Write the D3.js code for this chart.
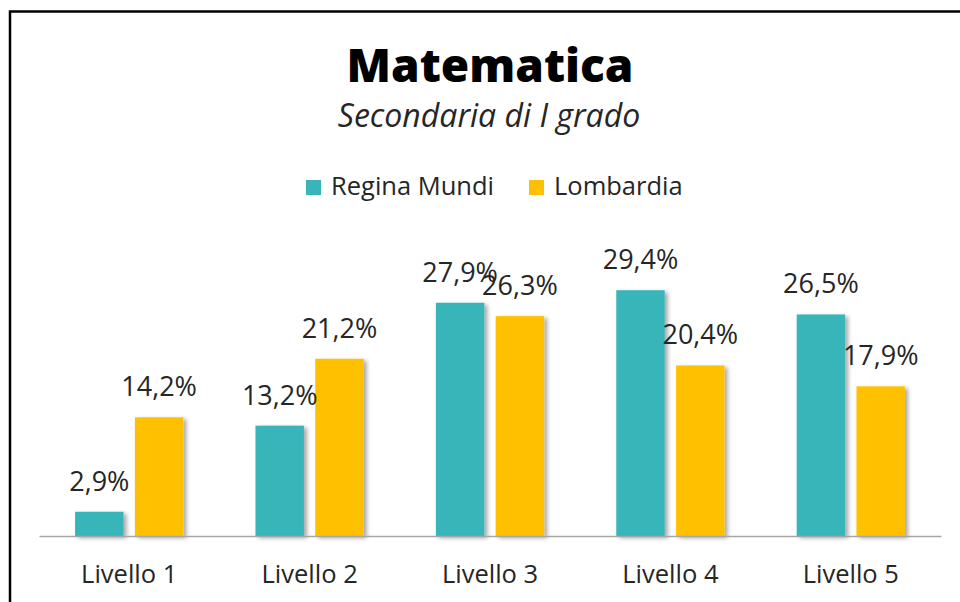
<!DOCTYPE html>
<html>
<head>
<meta charset="utf-8">
<script src="https://cdn.jsdelivr.net/npm/d3@7"></script>
<style>
  body { margin: 0; background: #fff; overflow: hidden; }
  svg { display: block; }
  text { font-family: "Open Sans", Lato, sans-serif; fill: #262626; }
</style>
</head>
<body>
<div id="chart"></div>
<script>
// data
const categories = ['Livello 1', 'Livello 2', 'Livello 3', 'Livello 4', 'Livello 5'];
const seriesNames = ['Regina Mundi', 'Lombardia'];
const reginaMundi = [2.9, 13.2, 27.9, 29.4, 26.5];
const lombardia = [14.2, 21.2, 26.3, 20.4, 17.9];
const colors = ['#37B5B8', '#FFC000'];

const width = 960, height = 602;

const svg = d3.select('#chart').append('svg')
    .attr('width', width)
    .attr('height', height);

// drop shadow for the bars
const defs = svg.append('defs');
defs.append('filter')
    .attr('id', 'shadow')
    .attr('x', '-20%').attr('y', '-20%')
    .attr('width', '150%').attr('height', '150%')
    .append('feDropShadow')
    .attr('dx', 3).attr('dy', 2)
    .attr('stdDeviation', 2)
    .attr('flood-color', '#000')
    .attr('flood-opacity', 0.35);

// frame: only the left and top edge show in the crop
svg.append('path')
    .attr('d', 'M10,602 V11.5 H960')
    .attr('fill', 'none')
    .attr('stroke', '#000')
    .attr('stroke-width', 2.5);

// title + subtitle
svg.append('text')
    .attr('x', 490).attr('y', 82)
    .attr('text-anchor', 'middle')
    .style('font-size', '46px')
    .style('font-weight', 800)
    .style('fill', '#000')
    .text('Matematica');

svg.append('text')
    .attr('x', 489).attr('y', 127)
    .attr('text-anchor', 'middle')
    .style('font-size', '32px')
    .style('font-style', 'italic')
    .text('Secondaria di I grado');

// legend
const legendX = [306, 529];
seriesNames.forEach((name, i) => {
    svg.append('rect')
        .attr('x', legendX[i]).attr('y', 180)
        .attr('width', 15).attr('height', 15)
        .attr('fill', colors[i]);
    svg.append('text')
        .attr('x', legendX[i] + 25).attr('y', 195)
        .style('font-size', '25.5px')
        .text(name);
});

// scales
const x0 = d3.scaleBand()
    .domain(categories)
    .range([39, 941])
    .paddingInner(0.4)
    .paddingOuter(0.2);

const x1 = d3.scaleBand()
    .domain(seriesNames)
    .range([0, x0.bandwidth()])
    .paddingInner(0.19);

const y = d3.scaleLinear()
    .domain([0, 35])
    .range([536, 536 - 35 * 8.36]);

const rows = categories.map((c, i) => ({
    cat: c,
    values: [
        { key: seriesNames[0], value: reginaMundi[i], color: colors[0] },
        { key: seriesNames[1], value: lombardia[i], color: colors[1] }
    ]
}));

const groups = svg.append('g')
    .selectAll('g')
    .data(rows)
    .join('g')
    .attr('transform', d => `translate(${x0(d.cat)},0)`);

groups.selectAll('rect')
    .data(d => d.values)
    .join('rect')
    .attr('x', d => x1(d.key))
    .attr('y', d => y(d.value))
    .attr('width', x1.bandwidth())
    .attr('height', d => y(0) - y(d.value))
    .attr('fill', d => d.color)
    .attr('filter', 'url(#shadow)');

groups.selectAll('text.val')
    .data(d => d.values)
    .join('text')
    .attr('class', 'val')
    .attr('x', d => x1(d.key) + x1.bandwidth() / 2)
    .attr('y', d => y(d.value) - 21)
    .attr('text-anchor', 'middle')
    .style('font-size', '27px')
    .text(d => d3.format('.1f')(d.value).replace('.', ',') + '%');

// category axis
const xAxis = svg.append('g')
    .attr('transform', `translate(0,${y(0)})`)
    .call(d3.axisBottom(x0).tickSize(0).tickPadding(29));

xAxis.select('.domain')
    .attr('stroke', '#a6a6a6')
    .attr('stroke-width', 1.5);

xAxis.selectAll('text')
    .style('font-size', '25.5px')
    .style('font-family', '"Open Sans", Lato, sans-serif')
    .attr('fill', '#262626');
</script>
</body>
</html>
